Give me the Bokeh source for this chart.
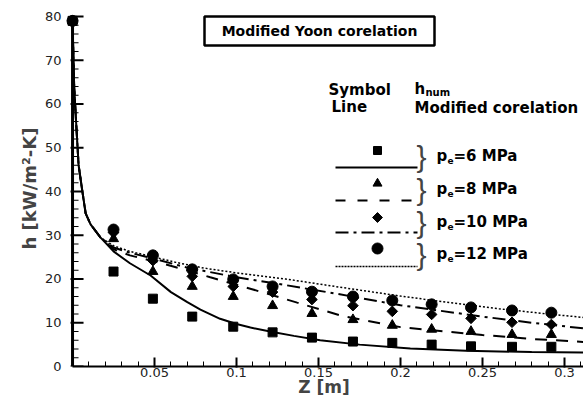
from bokeh.plotting import figure
from bokeh.models import Range1d, FixedTicker
from bokeh.core.properties import value
from bokeh.embed import file_html
from bokeh.resources import INLINE
import math

# ---------------- data ----------------
z_pts = [0.0, 0.025, 0.049, 0.073, 0.098, 0.122, 0.146, 0.171, 0.195, 0.219, 0.243, 0.268, 0.292]
h_num_6 = [79, 21.7, 15.5, 11.4, 9.1, 7.8, 6.6, 5.7, 5.4, 5.0, 4.6, 4.5, 4.5]
h_num_8 = [79, 29.2, 21.7, 18.3, 16.0, 13.9, 12.1, 10.7, 9.4, 8.5, 8.0, 7.3, 7.3]
h_num_10 = [79, 30.6, 24.2, 20.6, 18.3, 17.0, 15.3, 13.9, 12.6, 11.9, 11.0, 10.1, 9.6]
h_num_12 = [79, 31.3, 25.4, 22.2, 19.9, 18.3, 17.1, 16.0, 15.1, 14.2, 13.5, 12.8, 12.3]

z_corr_6 = [0, 0.001, 0.002, 0.0037, 0.006, 0.008, 0.011, 0.017, 0.025, 0.035, 0.0476, 0.06, 0.07,
            0.078, 0.09, 0.1, 0.1085, 0.122, 0.135, 0.151, 0.175, 0.206, 0.24, 0.28, 0.312]
h_corr_6 = [79, 64, 57, 46, 40, 35, 32.5, 29.5, 26.3, 23.6, 20.8, 17.0, 14.7,
            13.0, 10.9, 9.7, 8.9, 7.9, 7.0, 6.0, 5.0, 4.1, 3.6, 3.3, 3.2]

z_corr_8 = [0, 0.001, 0.002, 0.0037, 0.006, 0.008, 0.011, 0.017, 0.025, 0.035, 0.05, 0.066, 0.084,
            0.11, 0.137, 0.165, 0.2, 0.25, 0.28, 0.312]
h_corr_8 = [79, 64, 57, 46, 40, 35, 32.5, 29.5, 26.8, 25.4, 24.0, 22.4, 20.4,
            17.6, 14.6, 11.5, 9.0, 7.2, 6.3, 5.6]

z_corr_10 = [0, 0.001, 0.002, 0.0037, 0.006, 0.008, 0.011, 0.017, 0.025, 0.035, 0.05, 0.07, 0.1,
             0.13, 0.16, 0.2, 0.25, 0.28, 0.312]
h_corr_10 = [79, 64, 57, 46, 40, 35, 32.5, 29.5, 27.2, 26.0, 24.6, 22.6, 20.4,
             18.6, 16.7, 14.0, 11.4, 10.0, 8.7]

z_corr_12 = [0, 0.001, 0.002, 0.0037, 0.006, 0.008, 0.011, 0.017, 0.025, 0.035, 0.05, 0.063, 0.08,
             0.1, 0.13, 0.16, 0.2, 0.23, 0.26, 0.29, 0.312]
h_corr_12 = [79, 64, 57, 46, 40, 35, 32.5, 29.5, 27.6, 26.3, 25.0, 23.8, 22.5,
             21.4, 20.0, 18.3, 16.1, 14.6, 13.2, 12.0, 11.2]

series_labels = ["=6 MPa", "=8 MPa", "=10 MPa", "=12 MPa"]
x_ticks = [0.05, 0.1, 0.15, 0.2, 0.25, 0.3]
x_tick_labels = ["0.05", "0.1", "0.15", "0.2", "0.25", "0.3"]
y_ticks = [0, 10, 20, 30, 40, 50, 60, 70, 80]
y_minor = [v for v in range(0, 81, 2) if v % 10]

# ---------------- figure ----------------
W, H = 583, 399
ML, MT, MB = 64, 10, 33
FW, FH = W - ML, H - MT - MB
X0, X1 = -0.0049, 0.3116
Y1 = 81.37
DY = Y1 / FH                 # data units per pixel vertically

p = figure(width=W, height=H, output_backend="svg", toolbar_location=None,
           x_range=Range1d(X0, X1), y_range=Range1d(0, Y1),
           min_border_left=ML, min_border_right=0, min_border_top=MT, min_border_bottom=MB)
p.outline_line_color = None
p.xgrid.visible = False
p.ygrid.visible = False
p.background_fill_color = "white"
p.border_fill_color = "white"
p.extra_x_ranges = {"px": Range1d(0, FW)}
p.extra_y_ranges = {"py": Range1d(FH, 0)}

# x axis
xa = p.xaxis[0]
xa.ticker = FixedTicker(ticks=x_ticks, minor_ticks=[i / 100 for i in range(1, 32)])
xa.major_label_overrides = {t: s for t, s in zip(x_ticks, x_tick_labels)}
xa.bounds = (0, 0.32)
xa.axis_line_width = 2
xa.major_tick_in = 9
xa.major_tick_out = 1
xa.minor_tick_in = 5
xa.minor_tick_out = 0
xa.major_tick_line_width = 2
xa.major_label_standoff = 0
xa.major_label_text_font = "DejaVu Sans"
xa.major_label_text_font_size = "13px"
xa.major_label_text_color = "#222222"
xa.axis_label = "Z [m]"
xa.axis_label_text_font = "DejaVu Sans"
xa.axis_label_text_font_style = "bold"
xa.axis_label_text_font_size = "17px"
xa.axis_label_standoff = -3

# y axis: labels at frame edge
ya = p.yaxis[0]
ya.ticker = FixedTicker(ticks=y_ticks)
ya.axis_line_color = None
ya.major_tick_line_color = None
ya.minor_tick_line_color = None
ya.major_tick_out = 0
ya.major_tick_in = 0
ya.major_label_standoff = 3
ya.major_label_text_font = "DejaVu Sans"
ya.major_label_text_font_size = "13px"
ya.major_label_text_color = "#222222"
ya.axis_label = "h [kW/m²-K]"
ya.axis_label_text_font = "DejaVu Sans"
ya.axis_label_text_font_style = "bold"
ya.axis_label_text_font_size = "18px"
ya.axis_label_standoff = 2

# y spine and ticks at z = 0, drawn as filled bars (x in frame pixels)
zx = (0 - X0) / (X1 - X0) * FW
p.quad(left=[zx - 1.5], right=[zx + 1.5], bottom=[0], top=[80],
       fill_color="black", line_color=None, x_range_name="px")
p.quad(left=[zx - 2] * len(y_ticks), right=[zx + 11] * len(y_ticks),
       bottom=[t - DY for t in y_ticks], top=[t + DY for t in y_ticks],
       fill_color="black", line_color=None, x_range_name="px")
p.quad(left=[zx] * len(y_minor), right=[zx + 6] * len(y_minor),
       bottom=[t - DY / 2 for t in y_minor], top=[t + DY / 2 for t in y_minor],
       fill_color="black", line_color=None, x_range_name="px")

# correlation lines
p.line(z_corr_6, h_corr_6, line_color="black", line_width=2)
p.line(z_corr_8, h_corr_8, line_color="black", line_width=2, line_dash="12 9")
p.line(z_corr_10, h_corr_10, line_color="black", line_width=2, line_dash="13 5 3 5")
p.line(z_corr_12, h_corr_12, line_color="black", line_width=1.5, line_dash="2 2")

# numerical points
p.scatter(z_pts, h_num_6, marker="square", size=9, color="black")
p.scatter(z_pts, h_num_8, marker="triangle", size=10, color="black")
p.scatter(z_pts, h_num_10, marker="square", angle=math.pi / 4, size=7.5, color="black")
p.scatter(z_pts, h_num_12, marker="circle", size=11, color="black")

# ---------------- annotations (frame pixel coords, y down) ----------------
kw = dict(x_range_name="px", y_range_name="py")
bold = dict(text_font=value("DejaVu Sans"), text_font_style="bold", text_color="black",
            text_baseline="middle", text_align="left")

# title box
p.quad(left=[140], right=[370], top=[6], bottom=[35], fill_color="white",
       line_color="black", line_width=2.5, **kw)
p.text(x=[255], y=[20.5], text=["Modified Yoon corelation"], text_font_size="14px",
       **{**bold, "text_align": "center"}, **kw)

# legend header
p.text(x=[264, 267], y=[79, 96], text=["Symbol", "Line"], text_font_size="15px", **bold, **kw)
p.text(x=[350], y=[78], text=["h"], text_font_size="15px", **bold, **kw)
p.text(x=[361], y=[82], text=["num"], text_font_size="10px", **bold, **kw)
p.text(x=[350], y=[97], text=["Modified corelation"], text_font_size="15px", **bold, **kw)

# legend items
mk_y = [140, 173, 207, 238]
ln_y = [157, 190, 222, 256]
tx_y = [145, 178, 211, 243]
markers = ["square", "triangle", "square", "circle"]
mangle = [0, 0, math.pi / 4, 0]
msize = [8, 9, 7, 11]
dashes = ["solid", "10 12", "13 5 3 5", "2 1"]
lwid = [2, 2, 2, 1.5]
for i in range(4):
    p.scatter([313], [mk_y[i]], marker=markers[i], angle=mangle[i], size=msize[i],
              color="black", **kw)
    p.line([271, 353], [ln_y[i], ln_y[i]], line_color="black", line_width=lwid[i],
           line_dash=dashes[i], **kw)
    p.text(x=[352], y=[tx_y[i] + 1], text=["}"], text_font=value("Liberation Sans"),
           text_font_size="30px", text_color="#444444", text_baseline="middle",
           text_align="left", **kw)
    p.text(x=[372], y=[tx_y[i]], text=["p"], text_font_size="15px", **bold, **kw)
    p.text(x=[383], y=[tx_y[i] + 5], text=["e"], text_font_size="9px", **bold, **kw)
    p.text(x=[389], y=[tx_y[i]], text=[series_labels[i]], text_font_size="15px", **bold, **kw)

open("out.html", "w").write(file_html(p, INLINE))
